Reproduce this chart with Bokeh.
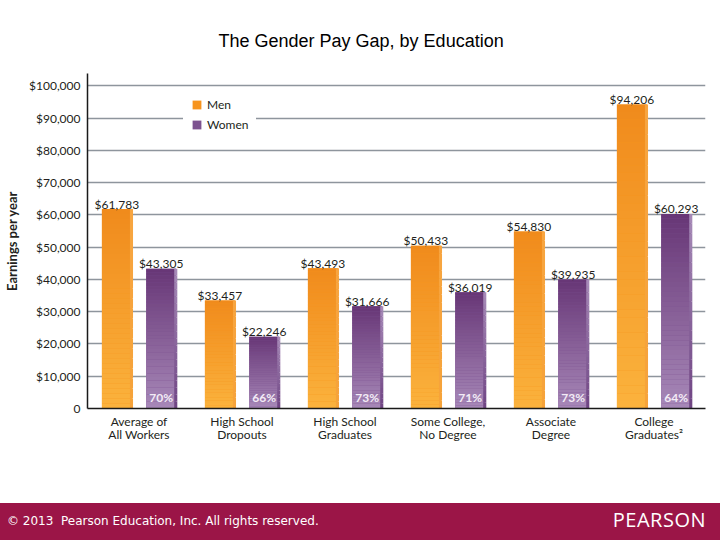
from bokeh.plotting import figure
from bokeh.models import (Range1d, ColumnDataSource, Legend, LegendItem,
                          FixedTicker, Div, LinearAxis)
from bokeh.layouts import column
from bokeh.embed import file_html
from bokeh.resources import INLINE
from bokeh.core.properties import value

# ---------------- data ----------------
categories = ["Average of All Workers", "High School Dropouts", "High School Graduates",
              "Some College, No Degree", "Associate Degree", "College Graduates"]
label_line1 = ["Average of", "High School", "High School", "Some College,", "Associate", "College"]
label_line2 = ["All Workers", "Dropouts", "Graduates", "No Degree", "Degree", "Graduates\u00b2"]
men = [61783, 33457, 43493, 50433, 54830, 94206]
women = [43305, 22246, 31666, 36019, 39935, 60293]
ratio_labels = ["70%", "66%", "73%", "71%", "73%", "64%"]
y_ticks = [0, 10000, 20000, 30000, 40000, 50000, 60000, 70000, 80000, 90000, 100000]
y_tick_labels = ["0", "$10,000", "$20,000", "$30,000", "$40,000", "$50,000",
                 "$60,000", "$70,000", "$80,000", "$90,000", "$100,000"]
series_names = ["Men", "Women"]

FONT = "Lato"
MEN_TOP, MEN_BOT, MEN_SW = "#f08a1c", "#fbb33d", "#f7941d"
WOM_TOP, WOM_BOT, WOM_SW = "#673676", "#a788b8", "#7d5290"
MEN_STRIP_TOP, MEN_STRIP_BOT = "#f7a540", "#f6a33a"
WOM_STRIP_TOP, WOM_STRIP_BOT = "#a78bb8", "#6f4483"
OFFSET = 0.215
BAR_W = 0.29
STRIP_W = 0.03

centers = [i + 0.5 for i in range(len(categories))]


def hex2rgb(h):
    h = h.lstrip("#")
    return tuple(int(h[i:i + 2], 16) for i in (0, 2, 4))


def mix(c_bot, c_top, f):
    a, b = hex2rgb(c_bot), hex2rgb(c_top)
    return "#%02x%02x%02x" % tuple(int(round(a[i] + (b[i] - a[i]) * f)) for i in range(3))


def gradient_source(vals, shift, c_top, c_bot, n=40):
    xs, bots, tops, cols = [], [], [], []
    for cx, v in zip(centers, vals):
        for k in range(n):
            xs.append(cx + shift)
            bots.append(v * k / n)
            tops.append(v * (k + 1) / n)
            cols.append(mix(c_bot, c_top, (k + 0.5) / n))
    return ColumnDataSource(dict(x=xs, bottom=bots, top=tops, color=cols))


p = figure(width=720, height=503,
           x_range=Range1d(0, len(categories)),
           y_range=Range1d(0, 103800),
           output_backend="svg", toolbar_location=None,
           min_border_left=87, min_border_right=15, min_border_top=73, min_border_bottom=95,
           outline_line_color=None)

# title
p.title.text = "The Gender Pay Gap, by Education"
p.title.align = "left"
p.title.offset = 131
p.title.text_font = "Liberation Sans"
p.title.text_font_size = "18px"
p.title.text_font_style = "normal"
p.title.text_color = "#000000"
p.title.standoff = 46

bar_src = ColumnDataSource(dict(
    xm=[c - OFFSET for c in centers], xw=[c + OFFSET for c in centers],
    men=men, women=women,
    men_lab=[f"${v:,}" for v in men], wom_lab=[f"${v:,}" for v in women],
    ratio=ratio_labels, zero=[0] * len(categories)))

men_base = p.vbar(x="xm", top="men", width=BAR_W, source=bar_src,
                  fill_color=MEN_SW, line_color=None)
wom_base = p.vbar(x="xw", top="women", width=BAR_W, source=bar_src,
                  fill_color=WOM_SW, line_color=None)

p.vbar(x="x", bottom="bottom", top="top", width=BAR_W,
       source=gradient_source(men, -OFFSET, MEN_TOP, MEN_BOT), fill_color="color", line_color=None)
p.vbar(x="x", bottom="bottom", top="top", width=BAR_W,
       source=gradient_source(women, OFFSET, WOM_TOP, WOM_BOT), fill_color="color", line_color=None)

# right-edge highlight strips
edge = BAR_W / 2 - STRIP_W / 2 + 0.012
p.vbar(x="x", bottom="bottom", top="top", width=STRIP_W,
       source=gradient_source(men, -OFFSET + edge, MEN_STRIP_TOP, MEN_STRIP_BOT, 20),
       fill_color="color", line_color=None)
p.vbar(x="x", bottom="bottom", top="top", width=STRIP_W,
       source=gradient_source(women, OFFSET + edge, WOM_STRIP_TOP, WOM_STRIP_BOT, 20),
       fill_color="color", line_color=None)

# value labels
p.text(x="xm", y="men", text="men_lab", source=bar_src,
       text_align="center", text_baseline="alphabetic", y_offset=-5,
       text_font=value(FONT), text_font_size="12px", text_color="#231f20")
p.text(x="xw", y="women", text="wom_lab", source=bar_src,
       text_align="center", text_baseline="alphabetic", y_offset=-5,
       text_font=value(FONT), text_font_size="12px", text_color="#231f20")
p.text(x="xw", y="zero", text="ratio", source=bar_src,
       text_align="center", text_baseline="bottom", y_offset=-4,
       text_font=value(FONT), text_font_size="12px", text_font_style="bold",
       text_color="#f3ecf6")

# y axis
p.yaxis.ticker = FixedTicker(ticks=y_ticks)
p.yaxis.major_label_overrides = dict(zip(y_ticks, y_tick_labels))
p.yaxis.major_tick_line_color = None
p.yaxis.major_tick_out = 0
p.yaxis.major_tick_in = 0
p.yaxis.minor_tick_line_color = None
p.yaxis.axis_line_color = "#1a1a1a"
p.yaxis.axis_line_width = 1.5
p.yaxis.major_label_standoff = 7
p.yaxis.major_label_text_font = FONT
p.yaxis.major_label_text_font_size = "12px"
p.yaxis.major_label_text_color = "#231f20"
p.yaxis.axis_label = "Earnings per year"
p.yaxis.axis_label_text_font = FONT
p.yaxis.axis_label_text_font_size = "13px"
p.yaxis.axis_label_text_font_style = "bold"
p.yaxis.axis_label_text_color = "#231f20"
p.yaxis.axis_label_standoff = 6


# x axes (two lines of category labels)
def style_xaxis(ax, labels, standoff):
    ax.ticker = FixedTicker(ticks=centers)
    ax.major_label_overrides = dict(zip(centers, labels))
    ax.major_tick_line_color = None
    ax.major_tick_out = 0
    ax.major_tick_in = 0
    ax.minor_tick_line_color = None
    ax.major_label_standoff = standoff
    ax.major_label_text_font = FONT
    ax.major_label_text_font_size = "12px"
    ax.major_label_text_color = "#231f20"


xa1 = p.xaxis[0]
style_xaxis(xa1, label_line1, 5)
xa1.axis_line_color = "#1a1a1a"
xa1.axis_line_width = 1.5
xa2 = LinearAxis()
style_xaxis(xa2, label_line2, -5)
xa2.axis_line_color = None
p.add_layout(xa2, "below")

p.xgrid.grid_line_color = None
p.ygrid.grid_line_color = "#8e959d"
p.ygrid.grid_line_width = 1.6

legend = Legend(items=[LegendItem(label=series_names[0], renderers=[men_base]),
                       LegendItem(label=series_names[1], renderers=[wom_base])],
                location=(96, 268), margin=0, padding=8, spacing=5,
                glyph_width=11, glyph_height=11, label_height=12, label_standoff=5,
                label_text_font=FONT, label_text_font_size="12px",
                label_text_color="#231f20",
                border_line_alpha=0, background_fill_color="white", background_fill_alpha=1)
p.add_layout(legend)

# footer band
BAND = "#9b1547"
footer_html = (
    f'<div style="position:relative;width:720px;height:37px;background:{BAND};overflow:hidden;">'
    '<span style="position:absolute;left:7px;top:11px;line-height:14px;font-family:\'DejaVu Sans\';'
    'font-size:12px;color:#ffffff;white-space:pre;">'
    '\u00a9 2013  Pearson Education, Inc. All rights reserved.</span>'
    '<span style="position:absolute;right:14px;top:6.5px;line-height:20px;font-family:\'Open Sans\';'
    'font-size:20px;letter-spacing:0.5px;color:#ffffff;white-space:pre;">PEARSON</span>'
    '</div>'
)
footer = Div(text=footer_html, width=720, height=37, margin=0)

layout = column(p, footer, spacing=0)
open("out.html", "w").write(file_html(layout, INLINE))
